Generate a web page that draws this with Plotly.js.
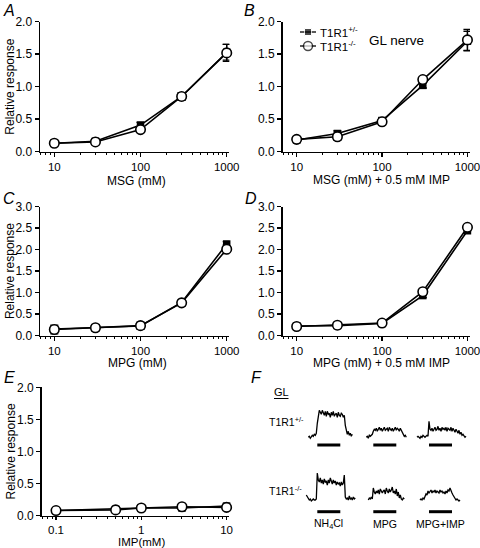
<!DOCTYPE html>
<html><head><meta charset="utf-8">
<script src="https://cdn.plot.ly/plotly-3.0.1.min.js"></script>
<style>html,body{margin:0;padding:0;background:#fff}#chart{width:480px;height:548px}</style>
</head><body><div id="chart"></div>
<script>
// ---------- DATA ----------
const concMSG = [10, 30, 100, 300, 1000];          // A-D (mM)
const concIMP = [0.1, 0.5, 1, 3, 10];               // E (mM)
const seriesNames = ['T1R1<sup>+/-</sup>', 'T1R1<sup>-/-</sup>'];
const xTitles = ['MSG (mM)', 'MSG (mM) + 0.5 mM IMP', 'MPG (mM)', 'MPG (mM) + 0.5 mM IMP', 'IMP(mM)'];
const yTitle = 'Relative response';

// A: MSG
const A_het = [0.13, 0.16, 0.41, 0.85, 1.53];
const A_het_err = [0.03, 0.03, 0.04, 0.05, 0.12];
const A_ko = [0.13, 0.15, 0.34, 0.85, 1.52];
const A_ko_err = [0.04, 0.04, 0.04, 0.06, 0.13];
// B: MSG + 0.5 mM IMP
const B_het = [0.18, 0.28, 0.48, 1.02, 1.70];
const B_het_err = [0.03, 0.04, 0.04, 0.04, 0.15];
const B_ko = [0.19, 0.23, 0.46, 1.11, 1.72];
const B_ko_err = [0.04, 0.05, 0.05, 0.04, 0.16];
// C: MPG
const C_het = [0.15, 0.18, 0.22, 0.77, 2.13];
const C_het_err = [0.05, 0.05, 0.06, 0.05, 0.06];
const C_ko = [0.14, 0.18, 0.23, 0.76, 2.01];
const C_ko_err = [0.10, 0.07, 0.08, 0.07, 0.10];
// D: MPG + 0.5 mM IMP
const D_het = [0.22, 0.23, 0.28, 0.93, 2.44];
const D_het_err = [0.04, 0.04, 0.05, 0.05, 0.06];
const D_ko = [0.21, 0.24, 0.29, 1.02, 2.52];
const D_ko_err = [0.05, 0.06, 0.07, 0.05, 0.06];
// E: IMP
const E_het = [0.08, 0.10, 0.12, 0.12, 0.15];
const E_het_err = [0.03, 0.03, 0.03, 0.03, 0.03];
const E_ko = [0.08, 0.09, 0.12, 0.14, 0.13];
const E_ko_err = [0.04, 0.04, 0.04, 0.04, 0.04];

// F: sample GL nerve recordings (arbitrary units, one value per sample)
const stimLabels = ['NH<sub>4</sub>Cl', 'MPG', 'MPG+IMP'];
const stimDuration = 23; // samples
const F_het = [
  [0,1,-1,0,2,1,3,2,4,14,22,27,25,23,27,24,22,26,21,26,23,24,20,25,22,26,21,23,24,20,25,22,21,24,23,20,22,12,5,3,6,2,4,1,3],
  [0,1,-1,2,1,2,3,6,8,7,9,6,8,10,7,9,6,8,10,7,8,9,6,10,8,7,9,6,8,10,7,9,8,6,9,7,5,3,1,2,0],
  [0,1,0,-1,1,0,2,1,0,1,2,1,16,8,7,9,6,8,10,7,8,11,7,9,6,10,8,9,7,10,6,9,8,7,10,6,9,7,5,8,6,4,7,3,5,2,3,1,0,1]
];
const F_het_pre = [9, 7, 12]; // samples recorded before stimulus onset
const F_ko = [
  [5,3,2,0,1,-1,0,1,0,0,1,27,20,18,22,17,20,16,21,18,19,15,20,17,22,18,16,20,17,19,15,18,16,17,14,18,15,17,25,3,1,2,0,4,1,2,0,3,1,2],
  [0,2,1,3,1,12,8,6,9,7,10,6,11,8,7,9,10,6,12,9,7,11,8,10,13,7,9,6,11,4,8,2,5,1,0,2,1],
  [0,1,0,2,1,3,6,5,9,7,8,10,7,9,8,10,7,9,8,7,10,8,9,7,8,6,9,7,10,9,12,8,7,5,3,1,0,1,0,-1,0]
];
const F_ko_pre = [11, 5, 9];

// ---------- LAYOUT HELPERS ----------
const W = 480, H = 548;
const FONT = 'Liberation Sans, Arial, Helvetica, sans-serif';
const px = x => x / W, py = y => 1 - y / H;

const traces = [];
function addSeries(ax, x, het, hetErr, ko, koErr) {
  const xa = 'x' + ax, ya = 'y' + ax;
  const common = {type: 'scatter', mode: 'lines+markers', x: x, xaxis: xa, yaxis: ya,
    showlegend: false, cliponaxis: false, line: {color: '#000', width: 1.6}};
  traces.push(Object.assign({}, common, {y: het, name: seriesNames[0],
    error_y: {type: 'data', array: hetErr, visible: true, color: '#000', thickness: 1.3, width: 4},
    marker: {symbol: 'square', size: 7.5, color: '#000'}}));
  traces.push(Object.assign({}, common, {y: ko, name: seriesNames[1],
    error_y: {type: 'data', array: koErr, visible: true, color: '#000', thickness: 1.3, width: 4},
    marker: {symbol: 'circle', size: 9.5, color: '#fff', line: {color: '#000', width: 1.6}}}));
}
addSeries('', concMSG, A_het, A_het_err, A_ko, A_ko_err);
addSeries('2', concMSG, B_het, B_het_err, B_ko, B_ko_err);
addSeries('3', concMSG, C_het, C_het_err, C_ko, C_ko_err);
addSeries('4', concMSG, D_het, D_het_err, D_ko, D_ko_err);
addSeries('5', concIMP, E_het, E_het_err, E_ko, E_ko_err);

// overlay pixel axis (x6/y6) for legend and panel F
const legendRowsY = [32, 46];
seriesNames.forEach((n, k) => {
  traces.push({type: 'scatter', mode: 'lines+markers', xaxis: 'x6', yaxis: 'y6', showlegend: false,
    x: [300, 308, 316], y: [legendRowsY[k], legendRowsY[k], legendRowsY[k]], cliponaxis: false,
    line: {color: '#000', width: 1.3},
    marker: k === 0 ? {symbol: 'square', size: [0, 7, 0], color: '#000'}
                    : {symbol: 'circle', size: [0, 9, 0], color: '#fff', line: {color: '#000', width: 1.5}}});
});

const colOnsetPx = [317.3, 373.3, 429];
const rowBasePx = [437.3, 500];
const barPx = [445, 511.7];
[[F_het, F_het_pre], [F_ko, F_ko_pre]].forEach(([rows, pre], r) => {
  rows.forEach((vals, c) => {
    traces.push({type: 'scatter', mode: 'lines', xaxis: 'x6', yaxis: 'y6', showlegend: false,
      x: vals.map((v, i) => colOnsetPx[c] + (i - pre[c])),
      y: vals.map(v => rowBasePx[r] - v),
      line: {color: '#000', width: 1.3}, cliponaxis: false});
    traces.push({type: 'scatter', mode: 'lines', xaxis: 'x6', yaxis: 'y6', showlegend: false,
      x: [colOnsetPx[c], colOnsetPx[c] + stimDuration], y: [barPx[r], barPx[r]],
      line: {color: '#000', width: 3}, cliponaxis: false});
  });
});

function minorVals(lo, hi) {
  const out = [];
  for (let d = lo; d < hi; d++) for (let m = 2; m <= 9; m++) out.push(m * Math.pow(10, d));
  return out;
}
const tickFont = {family: FONT, size: 11.5, color: '#000'};
function xAxis(dom, range, tickvals, ticktext, anchor, minor, tlen) {
  return {domain: dom, type: 'log', range: range, anchor: anchor,
    showline: true, linecolor: '#000', linewidth: 1.5, showgrid: false, zeroline: false,
    ticks: 'outside', ticklen: tlen || 4, tickwidth: 1.5, tickcolor: '#000', ticklabeloverflow: 'allow',
    tickvals: tickvals, ticktext: ticktext, tickfont: tickFont,
    minor: {tickvals: minor, ticks: 'outside', ticklen: 2, tickwidth: 1, tickcolor: '#000', showgrid: false},
    fixedrange: true};
}
function yAxis(dom, max, anchor) {
  return {domain: dom, range: [0, max], anchor: anchor, dtick: 0.5, tickformat: '.1f',
    showline: true, linecolor: '#000', linewidth: 1.5, showgrid: false, zeroline: false,
    ticks: 'outside', ticklen: 4, tickwidth: 1.5, tickcolor: '#000', tickfont: {family: FONT, size: 12, color: '#000'},
    fixedrange: true};
}
const xL = [px(40), px(229.3)], xR = [px(282.5), px(470)], xE = [px(41.7), px(229.3)];
const yTop = [py(151.7), py(21.7)], yMid = [py(335.5), py(206.7)], yBot = [py(515.7), py(387.3)];
const logR = [0.834, 3.03];
const mTicks = minorVals(0, 3).filter(v => v >= 7);
const mTicksE = minorVals(-2, 1).filter(v => v >= 0.07);

const ann = [];
function txt(x, y, t, size, opts) {
  ann.push(Object.assign({xref: 'paper', yref: 'paper', x: px(x), y: py(y), text: t, showarrow: false,
    font: {family: FONT, size: size, color: '#000'}, xanchor: 'center', yanchor: 'middle'}, opts || {}));
}
[['A', 9, 10], ['B', 249, 10], ['C', 9, 199], ['D', 251, 199], ['E', 9, 377], ['F', 256, 377]]
  .forEach(([l, x, y]) => txt(x, y, '<i>' + l + '</i>', 16));
// axis titles
[[136.5, 181], [381, 180.5], [137.5, 362.5], [381.5, 362.5]]
  .forEach(([x, y], i) => txt(x, y, xTitles[i], 12));
txt(141.7, 541.5, xTitles[4], 11.5);
[86.7, 271.1, 451.5].forEach(y => txt(10, y, yTitle, 12, {textangle: -90}));
// legend text
txt(318, legendRowsY[0], seriesNames[0], 11.5, {xanchor: 'left'});
txt(318, legendRowsY[1], seriesNames[1], 11.5, {xanchor: 'left'});
txt(367, 40, 'GL nerve', 13.5, {xanchor: 'left'});
// panel F texts
txt(281, 391.5, 'GL', 11);
txt(267, 421.7, seriesNames[0], 10.5, {xanchor: 'left'});
txt(267, 490, seriesNames[1], 10.5, {xanchor: 'left'});
stimLabels.forEach((s, c) => txt(colOnsetPx[c] + stimDuration / 2, 524, s, 10.5));

const layout = {
  width: W, height: H, margin: {l: 0, r: 0, t: 0, b: 0}, paper_bgcolor: '#fff', plot_bgcolor: 'rgba(0,0,0,0)',
  showlegend: false, font: {family: FONT, color: '#000'},
  xaxis: xAxis(xL, logR, [10, 100, 1000], ['10', '100', '1000'], 'y', mTicks),
  yaxis: yAxis(yTop, 2.0, 'x'),
  xaxis2: xAxis(xR, logR, [10, 100, 1000], ['10', '100', '1000'], 'y2', mTicks),
  yaxis2: yAxis(yTop, 2.0, 'x2'),
  xaxis3: xAxis(xL, logR, [10, 100, 1000], ['10', '100', '1000'], 'y3', mTicks),
  yaxis3: yAxis(yMid, 3.0, 'x3'),
  xaxis4: xAxis(xR, logR, [10, 100, 1000], ['10', '100', '1000'], 'y4', mTicks),
  yaxis4: yAxis(yMid, 3.0, 'x4'),
  xaxis5: xAxis(xE, [-1.168, 1.032], [0.1, 1, 10], ['0.1', '1', '10'], 'y5', mTicksE, 3),
  yaxis5: yAxis(yBot, 2.0, 'x5'),
  xaxis6: {domain: [0, 1], range: [0, W], visible: false, anchor: 'y6', fixedrange: true},
  yaxis6: {domain: [0, 1], range: [H, 0], visible: false, anchor: 'x6', fixedrange: true},
  annotations: ann,
  shapes: [{type: 'line', xref: 'paper', yref: 'paper', x0: px(274), x1: px(288.5), y0: py(398.5), y1: py(398.5),
    line: {color: '#000', width: 1}}]
};
Plotly.newPlot('chart', traces, layout, {staticPlot: true, displayModeBar: false});
</script></body></html>
